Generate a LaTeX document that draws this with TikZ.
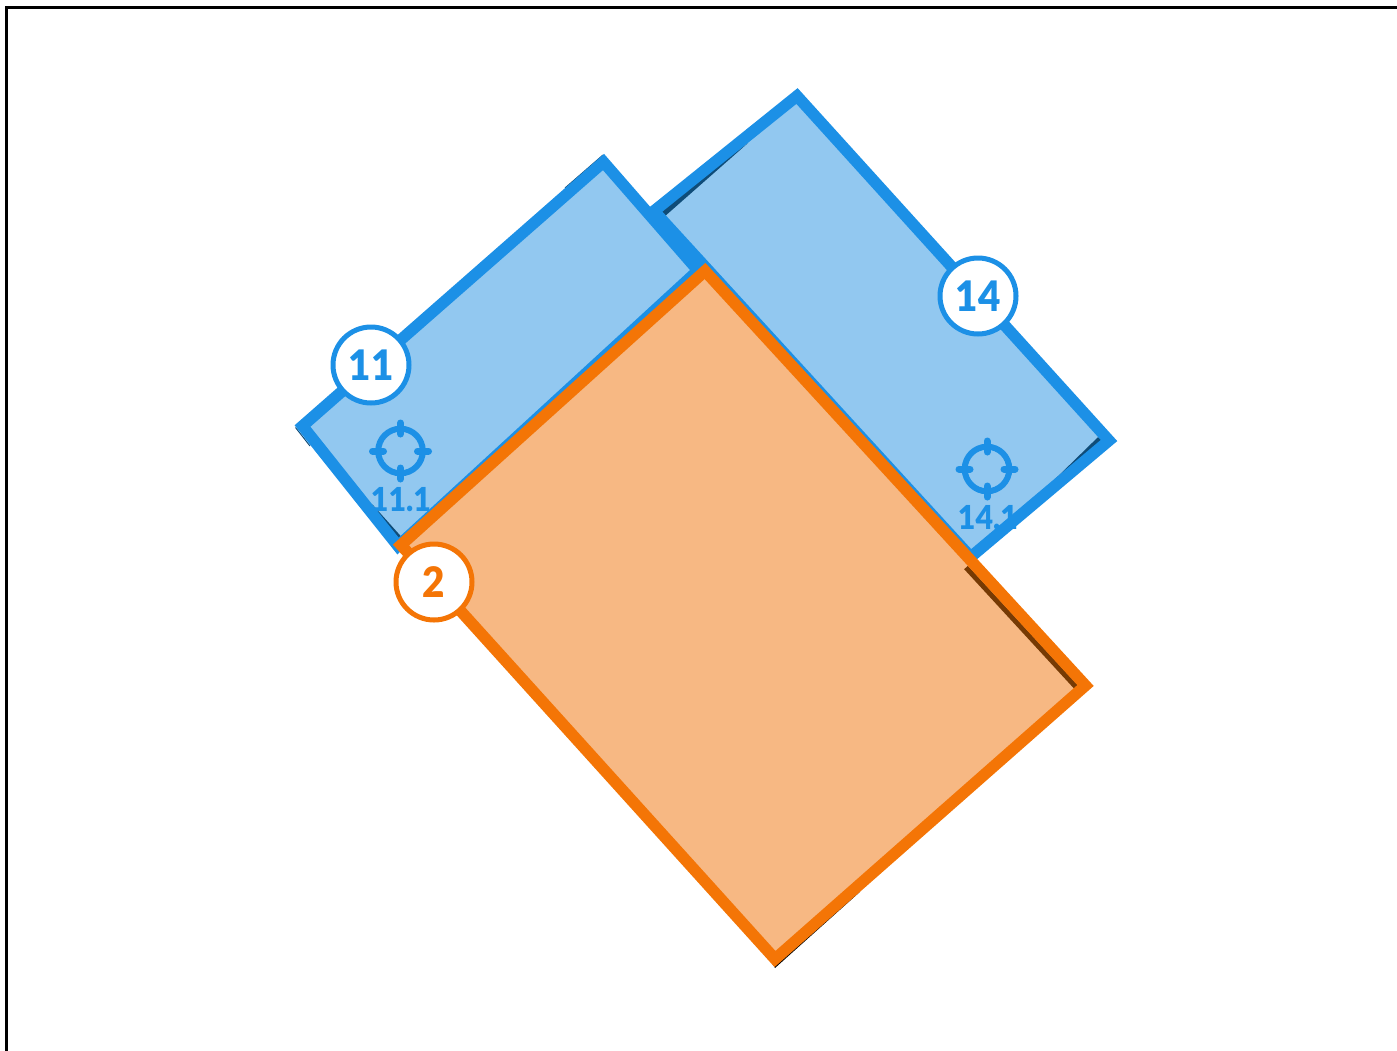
\documentclass[tikz,border=0pt]{standalone}
\usepackage{fontspec}
\setmainfont{Lato}[BoldFont={Lato Black},BoldFeatures={FakeStretch=0.92}]
\usepackage{xcolor}
\usetikzlibrary{positioning}
\definecolor{zoneblue}{HTML}{1C90E6}
\definecolor{zonebluefill}{HTML}{92C8F0}
\definecolor{zoneorange}{HTML}{F47506}
\definecolor{zoneorangefill}{HTML}{F7B883}
\definecolor{darkblue}{HTML}{0F4C78}
\definecolor{darkorange}{HTML}{763A04}
\tikzset{
  % --- plates ----------------------------------------------------------------
  bluefill/.style={fill=zonebluefill},
  orangefill/.style={fill=zoneorangefill},
  blueedge/.style={draw=zoneblue,line width=11.5pt,miter limit=10},
  orangeedge/.style={draw=zoneorange,line width=11.5pt,miter limit=10},
  % --- badges and targets ----------------------------------------------------
  badge/.style={circle,draw,fill=white,line width=5pt,minimum size=76pt,inner sep=0pt,
                font=\fontsize{42}{42}\selectfont\bfseries},
  target/.style={draw=zoneblue,line width=6pt},
  tick/.style={draw=zoneblue,line width=7pt,line cap=round},
  tlabel/.style={text=zoneblue,inner sep=0pt,font=\fontsize{33}{33}\selectfont\bfseries},
}
\begin{document}
\begin{tikzpicture}[x=1pt,y=-1pt]
  \useasboundingbox (0,0) rectangle (1397,1050);
  \clip (0,0) rectangle (1397,1050);
  \draw[line width=3pt] (6.5,1100) -- (6.5,7.5) -- (1450,7.5);
  % plate 14
  \coordinate (a1) at (797,96);
  \coordinate (a2) at (1109,440.5);
  \coordinate (a3) at (970.7,557);
  \coordinate (a4) at (654,211);
  \fill[bluefill] (a1) -- (a2) -- (a3) -- (a4) -- cycle;
  \fill[darkblue] (658,210) -- (664,217) -- (748,143) -- cycle;
  \fill[darkblue] (1104,437) -- (1097.7,437.4) -- (1047.5,486.5) -- (1100,443) -- cycle;
  \draw[target] (987,469) circle (22.3);
  \foreach \dx/\dy in {0/-1,0/1,-1/0,1/0}
    \draw[tick] (987+17*\dx,469+17*\dy) -- (987+28*\dx,469+28*\dy);
  \node[tlabel] (t14) at (988,518) {14.1};
  \draw[blueedge] (a1) -- (a2) -- (a3) -- (a4) -- cycle;
  % plate 11
  \coordinate (b1) at (603.5,162);
  \coordinate (b2) at (698,270.5);
  \coordinate (b3) at (398,546);
  \coordinate (b4) at (302.5,426);
  \draw[darkblue,line width=1pt] (603,155) -- (565,188);
  \draw[darkblue,line width=1pt] (295.5,427.5) -- (310,446);
  \fill[bluefill] (b1) -- (b2) -- (b3) -- (b4) -- cycle;
  \fill[darkblue] (372,504) -- (403,538.6) -- (401,545) -- cycle;
  \draw[target] (400.5,451) circle (22.3);
  \foreach \dx/\dy in {0/-1,0/1,-1/0,1/0}
    \draw[tick] (400.5+17*\dx,451+17*\dy) -- (400.5+28*\dx,451+28*\dy);
  \node[tlabel] (t11) at (401,500) {11.1};
  \draw[blueedge] (b1) -- (b2) -- (b3) -- (b4) -- cycle;
  % plate 2
  \coordinate (c1) at (705,271);
  \coordinate (c2) at (1085.5,685.5);
  \coordinate (c3) at (775,959);
  \coordinate (c4) at (401,545);
  \fill[black] (775,968) -- (860,891.8) -- (770,960) -- cycle;
  \fill[orangefill] (c1) -- (c2) -- (c3) -- (c4) -- cycle;
  \draw[darkorange,line width=5pt] (966,567.5) -- (1076,687);
  \draw[orangeedge] (c1) -- (c2) -- (c3) -- (c4) -- cycle;
  % badges
  \node[badge,draw=zoneblue,text=zoneblue] (n11) at (371,365) {11};
  \node[badge,draw=zoneblue,text=zoneblue] (n14) at (978,296) {14};
  \node[badge,draw=zoneorange,text=zoneorange] (n2) at (434,582) {2};
\end{tikzpicture}
\end{document}
